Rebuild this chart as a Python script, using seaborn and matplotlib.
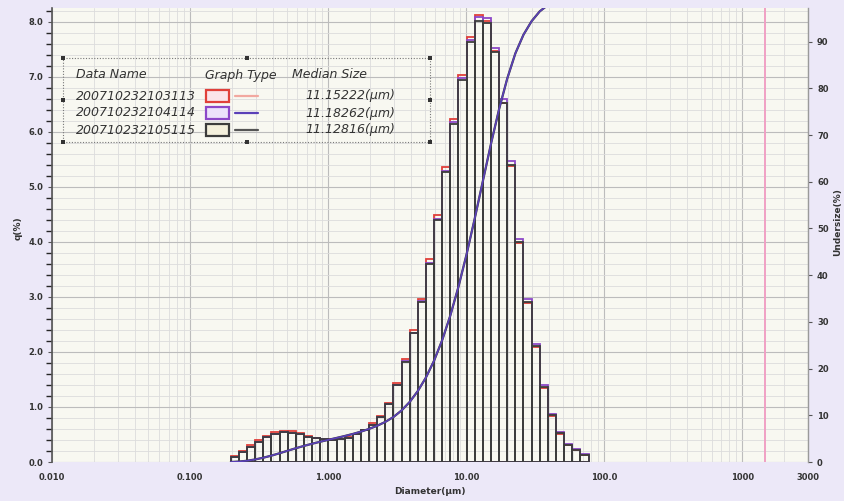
import numpy as np
import matplotlib
matplotlib.use("Agg")
import matplotlib.pyplot as plt
from matplotlib.patches import Rectangle
from matplotlib.lines import Line2D
from matplotlib.ticker import MultipleLocator, LogLocator, NullFormatter
import seaborn as sns

# ---------------- data ----------------
# channel edges of the particle size distribution (um)
size_edges = [0.1975, 0.2262, 0.2591, 0.2968, 0.3398, 0.3892, 0.4457, 0.5104,
              0.5845, 0.6694, 0.7667, 0.8780, 1.0055, 1.1515, 1.3188, 1.5103,
              1.7297, 1.9809, 2.2685, 2.5980, 2.9753, 3.4075, 3.9023, 4.4691,
              5.1182, 5.8615, 6.7128, 7.6878, 8.8044, 10.083, 11.547, 13.224,
              15.145, 17.345, 19.863, 22.748, 26.052, 29.836, 34.170, 39.133,
              44.817, 51.325, 58.780, 67.317, 77.094]

q_red = [0.10, 0.20, 0.30, 0.40, 0.48, 0.54, 0.57, 0.56, 0.53, 0.48,
         0.44, 0.42, 0.41, 0.42, 0.45, 0.51, 0.59, 0.70, 0.84, 1.08,
         1.44, 1.87, 2.40, 2.97, 3.68, 4.48, 5.36, 6.24, 7.04, 7.72,
         8.12, 8.02, 7.46, 6.52, 5.38, 3.98, 2.89, 2.09, 1.35, 0.84,
         0.51, 0.31, 0.22, 0.13]

q_purple = [0.09, 0.18, 0.28, 0.37, 0.45, 0.51, 0.54, 0.53, 0.50, 0.46,
            0.43, 0.41, 0.40, 0.41, 0.44, 0.50, 0.58, 0.68, 0.82, 1.05,
            1.40, 1.83, 2.35, 2.92, 3.62, 4.42, 5.29, 6.17, 6.97, 7.66,
            8.08, 8.07, 7.52, 6.60, 5.47, 4.06, 2.96, 2.15, 1.40, 0.88,
            0.54, 0.32, 0.23, 0.14]

q_dark = [0.09, 0.18, 0.28, 0.37, 0.45, 0.51, 0.54, 0.53, 0.50, 0.46,
          0.43, 0.41, 0.40, 0.41, 0.44, 0.50, 0.58, 0.68, 0.82, 1.05,
          1.40, 1.82, 2.34, 2.90, 3.60, 4.40, 5.27, 6.15, 6.95, 7.64,
          8.02, 7.98, 7.45, 6.53, 5.40, 4.00, 2.90, 2.10, 1.36, 0.85,
          0.52, 0.31, 0.22, 0.13]

# cumulative undersize (%) at each channel edge
undersize = [0.00, 0.09, 0.27, 0.55, 0.92, 1.37, 1.88, 2.42, 2.95, 3.45,
             3.91, 4.34, 4.75, 5.15, 5.56, 6.00, 6.50, 7.08, 7.76, 8.58,
             9.63, 11.03, 12.85, 15.19, 18.09, 21.69, 26.09, 31.36, 37.51,
             44.46, 52.10, 60.12, 68.10, 75.55, 82.08, 87.48, 91.48, 94.38,
             96.48, 97.84, 98.69, 99.21, 99.52, 99.74, 100.0]

x_ticks = [0.01, 0.1, 1, 10, 100, 1000, 3000]
x_tick_labels = ["0.010", "0.100", "1.000", "10.00", "100.0", "1000", "3000"]
q_ticks = [0, 1, 2, 3, 4, 5, 6, 7, 8]
q_tick_labels = ["0.0", "1.0", "2.0", "3.0", "4.0", "5.0", "6.0", "7.0", "8.0"]
u_ticks = [0, 10, 20, 30, 40, 50, 60, 70, 80, 90]
u_tick_labels = ["0", "10", "20", "30", "40", "50", "60", "70", "80", "90"]

data_names = ["200710232103113", "200710232104114", "200710232105115"]
median_sizes = ["11.15222(\u00b5m)", "11.18262(\u00b5m)", "11.12816(\u00b5m)"]
marker_size = 1470

# ---------------- styling ----------------
W, H = 844, 501
sns.set_theme(style="white")
plt.rcParams['font.family'] = ['DejaVu Sans']

def fx(px):
    return px / W

def fy(py):
    return 1 - py / H

fig = plt.figure(figsize=(W / 100, H / 100), dpi=100, facecolor="#ece8f8")
ax = fig.add_axes([fx(52), fy(462), (808 - 52) / W, (462 - 8) / H])
ax.set_facecolor("#f8f8f1")

edges = np.array(size_edges)
centers = list(np.sqrt(edges[:-1] * edges[1:]))
log_bins = [float(v) for v in np.log10(edges)]

series = [(q_red, "#e0403a"), (q_purple, "#8c48c8"), (q_dark, "#3c3c3c")]
for vals, col in series:
    sns.histplot(x=centers, weights=vals, bins=log_bins, log_scale=True,
                 fill=False, element="bars", stat="count", color=col,
                 edgecolor=col, linewidth=1.3, ax=ax)

ax.set_xlim(0.01, 3000)
ax.set_ylim(0, 8.25)
ax.set_xticks(x_ticks)
ax.set_xticklabels(x_tick_labels)
ax.xaxis.set_minor_locator(LogLocator(base=10, subs=np.arange(2, 10)))
ax.xaxis.set_minor_formatter(NullFormatter())
ax.set_yticks(q_ticks)
ax.set_yticklabels(q_tick_labels)
ax.yaxis.set_minor_locator(MultipleLocator(0.2))
ax.grid(which="major", color="#bcbcbc", lw=0.8)
ax.grid(which="minor", color="#dcdcdc", lw=0.6)
ax.set_axisbelow(True)
ax.axvline(marker_size, color="#f0a0c4", lw=1.4, zorder=1)

for s in ["top", "right", "bottom"]:
    ax.spines[s].set_visible(False)
ax.spines["left"].set_color("#555555")
ax.spines["left"].set_linewidth(1.2)
ax.tick_params(axis="both", which="major", direction="out", length=3,
               width=0.8, color="#555555", labelsize=6, labelcolor="#333333")
ax.tick_params(axis="x", which="major", pad=5)
ax.tick_params(axis="x", which="minor", direction="out", length=2, color="#999999")
for lab in ax.get_xticklabels() + ax.get_yticklabels():
    lab.set_fontweight("bold")
ax.set_xlabel("")
ax.set_ylabel("")

ax2 = ax.twinx()
sns.lineplot(x=size_edges, y=undersize, ax=ax2, color="#3c3c3c", lw=1.6)
sns.lineplot(x=size_edges, y=undersize, ax=ax2, color="#5a40b8", lw=1.2)
ax2.set_xlim(0.01, 3000)
ax2.set_ylim(0, 97.2)
ax2.set_yticks(u_ticks)
ax2.set_yticklabels(u_tick_labels)
ax2.grid(False)
for s in ["top", "left", "bottom"]:
    ax2.spines[s].set_visible(False)
ax2.spines["right"].set_color("#9a9a9a")
ax2.spines["right"].set_linewidth(1.0)
ax2.tick_params(axis="y", direction="out", length=3, width=0.8, color="#555555",
                labelsize=6, labelcolor="#333333")
for lab in ax2.get_yticklabels():
    lab.set_fontweight("bold")
ax2.set_ylabel("")

# axis titles
fig.text(fx(430), fy(492), "Diameter(\u00b5m)", ha="center", va="center",
         fontsize=6.5, fontweight="bold", color="#333333")
fig.text(fx(18), fy(228), "q(%)", ha="center", va="center", rotation=90,
         fontsize=6.5, fontweight="bold", color="#333333")
fig.text(fx(838), fy(222), "Undersize(%)", ha="center", va="center", rotation=90,
         fontsize=6.5, fontweight="bold", color="#333333")

# legend (custom table-like box)
bx0, by0, bx1, by1 = 63, 58, 430, 142
fig.patches.append(Rectangle((fx(bx0), fy(by1)), fx(bx1) - fx(bx0), fy(by0) - fy(by1),
                             transform=fig.transFigure, fill=False, ls=(0, (1, 1.5)),
                             ec="#777777", lw=0.8, zorder=5))
for (hx, hy) in [(bx0, by0), ((bx0 + bx1) / 2, by0), (bx1, by0), (bx0, (by0 + by1) / 2),
                 (bx1, (by0 + by1) / 2), (bx0, by1), ((bx0 + bx1) / 2, by1), (bx1, by1)]:
    fig.patches.append(Rectangle((fx(hx - 2), fy(hy + 2)), 4 / W, 4 / H,
                                 transform=fig.transFigure, fc="#333333", ec="none", zorder=6))

hdr_kw = dict(fontsize=9, style="italic", color="#333333", va="center", ha="left")
fig.text(fx(76), fy(75), "Data Name", **hdr_kw)
fig.text(fx(205), fy(75), "Graph Type", **hdr_kw)
fig.text(fx(292), fy(75), "Median Size", **hdr_kw)

row_y = [96, 113, 130]
box_cols = [("#e0403a", "#fbe4ea"), ("#8c48c8", "#ece2fb"), ("#3c3c3c", "#f4f0dc")]
line_cols = ["#f2a8a0", "#5a40b8", "#555555"]
for name, med, ry, (bec, bfc), lc in zip(data_names, median_sizes, row_y, box_cols, line_cols):
    fig.text(fx(76), fy(ry), name, fontsize=9, style="italic", color="#333333",
             va="center", ha="left")
    fig.patches.append(Rectangle((fx(206), fy(ry + 6)), 23 / W, 12 / H,
                                 transform=fig.transFigure, fc=bfc, ec=bec, lw=1.6, zorder=6))
    fig.lines.append(Line2D([fx(235), fx(258)], [fy(ry), fy(ry)], transform=fig.transFigure,
                            color=lc, lw=1.6, zorder=6))
    fig.text(fx(395), fy(ry), med, fontsize=9, style="italic", color="#333333",
             va="center", ha="right")

fig.savefig("out.png", dpi=100, facecolor=fig.get_facecolor())
